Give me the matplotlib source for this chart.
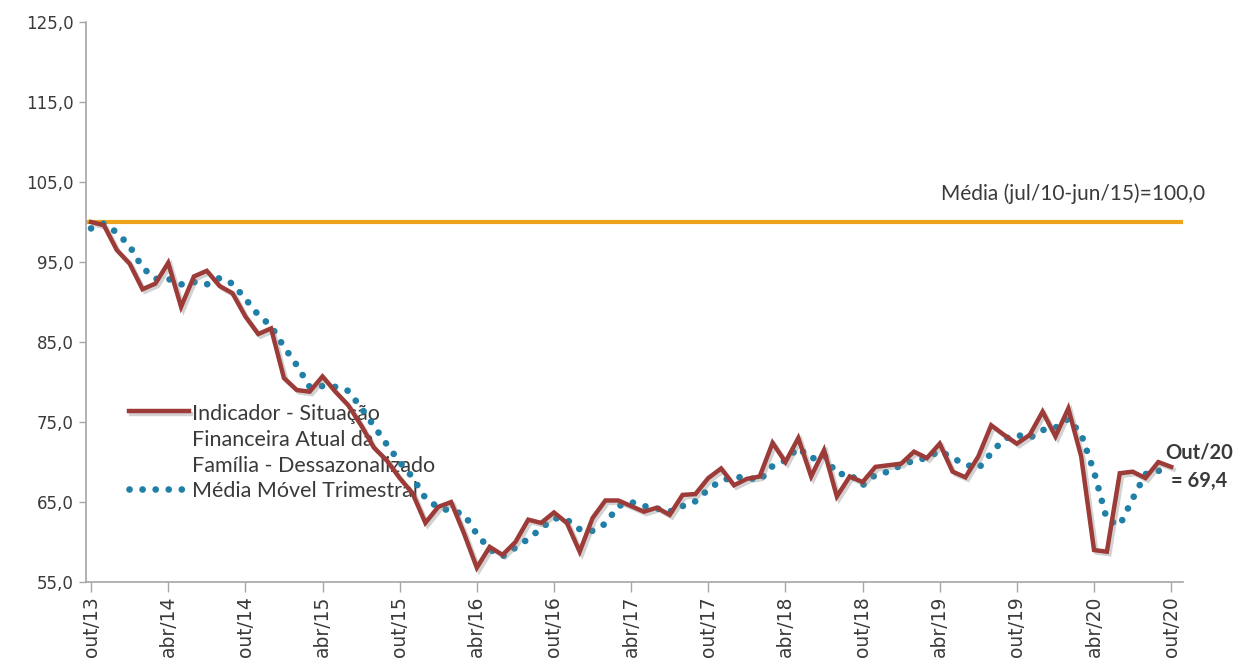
import matplotlib
matplotlib.use("Agg")
import matplotlib.pyplot as plt
import matplotlib.patheffects as pe
from matplotlib.legend_handler import HandlerLine2D

# Monthly index, out/13 .. out/20 (seasonally adjusted)
indicador = [
    100.0, 99.6, 96.5, 94.8, 91.6, 92.3, 94.9, 89.4, 93.2, 93.9, 92.0, 91.1,
    88.2, 86.0, 86.7, 80.5, 79.0, 78.8, 80.7, 78.8, 77.1, 74.6, 71.8, 70.2,
    68.0, 66.1, 62.4, 64.4, 65.0, 61.1, 56.8, 59.4, 58.4, 60.0, 62.8, 62.4,
    63.7, 62.4, 58.8, 63.0, 65.2, 65.2, 64.5, 63.8, 64.3, 63.4, 65.9, 66.0,
    68.0, 69.2, 67.1, 67.9, 68.2, 72.4, 70.0, 73.0, 68.2, 71.5, 65.7, 68.2,
    67.5, 69.4, 69.6, 69.8, 71.3, 70.5, 72.3, 68.8, 68.1, 70.7, 74.6, 73.4,
    72.3, 73.4, 76.3, 73.2, 76.7, 70.7, 59.0, 58.8, 68.6, 68.8, 68.0, 70.0,
    69.4,
]

# Three-month moving average
media_movel = [
    99.2, 99.8, 98.7, 97.0, 94.3, 92.9, 92.9, 92.2, 92.5, 92.2, 93.0, 92.3,
    90.4, 88.4, 87.0, 84.4, 82.1, 79.4, 79.5, 79.4, 78.9, 76.8, 74.5, 72.2,
    70.0, 68.1, 65.5, 64.3, 63.9, 63.5, 61.0, 59.1, 58.2, 59.3, 60.4, 61.7,
    63.0, 62.8, 61.6, 61.4, 62.3, 64.5, 65.0, 64.5, 64.2, 63.8, 64.5, 65.1,
    66.6, 67.7, 68.1, 68.1, 67.7, 69.5, 70.2, 71.8, 70.4, 70.9, 68.5, 68.5,
    67.1, 68.4, 68.8, 69.6, 70.2, 70.5, 71.4, 70.5, 69.7, 69.2, 71.1, 72.9,
    73.4, 73.0, 74.0, 74.3, 75.4, 73.5, 68.8, 62.8, 62.1, 65.4, 68.5, 68.9,
    69.1,
]

media_historica = 100.0
tick_labels = ["out/13", "abr/14", "out/14", "abr/15", "out/15", "abr/16",
               "out/16", "abr/17", "out/17", "abr/18", "out/18", "abr/19",
               "out/19", "abr/20", "out/20"]
y_ticks = [55, 65, 75, 85, 95, 105, 115, 125]

RED = "#9C3B37"
BLUE = "#1F7FA6"
ORANGE = "#EDA41C"
GREY = "#A6A6A6"
TXT = "#3A3A3A"


class TopAlignedLine(HandlerLine2D):
    """Line handle placed next to the first line of a multi-line label."""

    def __init__(self, shift=0.0, **kw):
        super().__init__(**kw)
        self.shift = shift

    def create_artists(self, legend, orig_handle, xdescent, ydescent,
                       width, height, fontsize, trans):
        arts = super().create_artists(legend, orig_handle, xdescent, ydescent,
                                      width, height, fontsize, trans)
        for a in arts:
            if hasattr(a, "get_ydata"):
                a.set_ydata([y + self.shift for y in a.get_ydata()])
        return arts


fig = plt.figure(figsize=(12.45, 6.66), dpi=100)
ax = fig.add_axes([0.069, 0.126, 0.881, 0.841])

x = list(range(len(indicador)))

ax.axhline(media_historica, color=ORANGE, lw=3.0, zorder=2)

shadow = [pe.SimpleLineShadow(offset=(1.8, -1.8), shadow_color="#808080",
                              alpha=0.35), pe.Normal()]
l_ind, = ax.plot(x, indicador, color=RED, lw=3.2, zorder=4,
                 solid_joinstyle="miter", path_effects=shadow,
                 label="Indicador - Situação\nFinanceira Atual da\nFamília - Dessazonalizado")
l_mm, = ax.plot(x, media_movel, color=BLUE, lw=4.8, zorder=3,
                linestyle=(0, (0.01, 1.95)), dash_capstyle="round",
                label="Média Móvel Trimestral")

ax.set_xlim(-0.4, 84.9)
ax.set_ylim(55, 125)

ax.set_yticks(y_ticks)
ax.set_yticklabels([f"{v:.1f}".replace(".", ",") for v in y_ticks],
                   fontsize=12, color=TXT, family="DejaVu Sans")
ax.set_xticks(range(0, len(indicador), 6))
ax.set_xticklabels(tick_labels, rotation=90, fontsize=13.5, color=TXT,
                   family="DejaVu Sans")
ax.tick_params(axis="y", length=5, width=1, color=GREY, pad=4)
ax.tick_params(axis="x", length=7, width=1, color=GREY, pad=3)

for s in ("top", "right"):
    ax.spines[s].set_visible(False)
for s in ("left", "bottom"):
    ax.spines[s].set_color(GREY)
    ax.spines[s].set_linewidth(1.2)

fs = 15.5
spacing = 1.38
leg = ax.legend(handles=[l_ind, l_mm], loc="upper left",
                bbox_to_anchor=(0.031, 0.333), frameon=False,
                fontsize=fs, handlelength=2.8, handletextpad=0.15,
                labelspacing=0.2, borderaxespad=0,
                prop={"family": "Lato", "size": fs},
                handler_map={l_ind: TopAlignedLine(shift=fs * spacing)})
for t in leg.get_texts():
    t.set_linespacing(spacing)
    t.set_color(TXT)
leg.set_zorder(1)

ax.text(1.02, 0.693, "Média (jul/10-jun/15)=100,0", transform=ax.transAxes,
        ha="right", va="center", fontsize=15, color=TXT, family="Lato",
        clip_on=False)

ax.annotate("Out/20\n= " + f"{indicador[-1]:.1f}".replace(".", ","),
            xy=(x[-1], indicador[-1]), xytext=(-4, 0),
            textcoords="offset points", ha="left", va="center",
            fontsize=14.5, fontweight="bold", color=TXT, family="Lato",
            multialignment="center", linespacing=1.5, annotation_clip=False)

fig.savefig("out.png", dpi=100, facecolor="white")
